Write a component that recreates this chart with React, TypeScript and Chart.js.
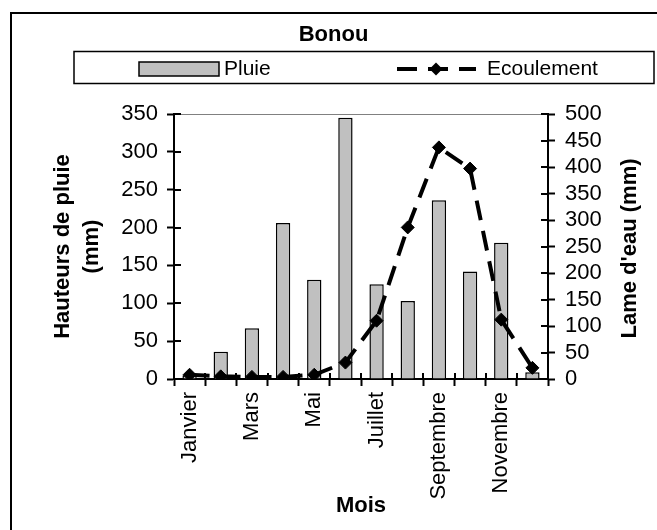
import { useEffect, useRef } from 'react';
import { Chart, registerables } from 'chart.js';

Chart.register(...registerables);

const months = ['Janvier', 'Février', 'Mars', 'Avril', 'Mai', 'Juin', 'Juillet', 'Août', 'Septembre', 'Octobre', 'Novembre', 'Décembre'];
const pluie = [5, 36, 67, 206, 131, 345, 125, 103, 236, 142, 180, 9];
const ecoulement = [8, 5, 4, 4, 8, 31, 110, 286, 437, 397, 112, 21];
const leftMax = 350;
const rightMax = 500;
const tickStep = 50;

const chartTitle = 'Bonou';
const seriesNames = ['Pluie', 'Ecoulement'];
const yTitleLines = ['Hauteurs de pluie', '(mm)'];
const y1Title = "Lame d'eau (mm)";
const xTitle = 'Mois';

const FONT = "'Liberation Sans', Arial, sans-serif";

const decorPlugin = {
  id: 'decor',
  afterDraw(chart: any) {
    const ctx: CanvasRenderingContext2D = chart.ctx;
    const ca = chart.chartArea;
    const { x, y, y1 } = chart.scales;
    ctx.save();

    // inner halves of tick marks (ticks cross the axes)
    ctx.strokeStyle = '#000';
    ctx.lineWidth = 2;
    ctx.beginPath();
    for (let i = 0; i <= months.length; i++) {
      const px = Math.round(x.getPixelForValue(i - 0.5));
      ctx.moveTo(px, ca.bottom);
      ctx.lineTo(px, ca.bottom - 6);
    }
    y.ticks.forEach((t: any) => {
      const py = Math.round(y.getPixelForValue(t.value));
      ctx.moveTo(ca.left, py);
      ctx.lineTo(ca.left + 7, py);
    });
    y1.ticks.forEach((t: any) => {
      const py = Math.round(y1.getPixelForValue(t.value));
      ctx.moveTo(ca.right, py);
      ctx.lineTo(ca.right - 7, py);
    });
    ctx.stroke();

    // outer frame
    ctx.lineWidth = 2;
    ctx.strokeRect(11, 13, 700, 600);

    // title
    ctx.fillStyle = '#000';
    ctx.font = `bold 22px ${FONT}`;
    ctx.textAlign = 'center';
    ctx.textBaseline = 'middle';
    ctx.fillText(chartTitle, 333.5, 35);

    // legend box
    ctx.lineWidth = 1.5;
    ctx.strokeRect(74, 51.5, 580, 32);
    const ds0 = chart.data.datasets[0];
    const ds1 = chart.data.datasets[1];
    const ly = 69;
    ctx.fillStyle = ds0.backgroundColor;
    ctx.fillRect(139, 62, 80, 14);
    ctx.strokeStyle = ds0.borderColor;
    ctx.lineWidth = 1.5;
    ctx.strokeRect(139, 62, 80, 14);
    ctx.fillStyle = '#000';
    ctx.font = `21px ${FONT}`;
    ctx.textAlign = 'left';
    ctx.fillText(seriesNames[0], 224, ly);

    ctx.strokeStyle = ds1.borderColor;
    ctx.lineWidth = ds1.borderWidth;
    ctx.setLineDash(ds1.borderDash);
    ctx.beginPath();
    ctx.moveTo(397, ly);
    ctx.lineTo(476, ly);
    ctx.stroke();
    ctx.setLineDash([]);
    ctx.fillStyle = ds1.pointBackgroundColor;
    const r = ds1.pointRadius;
    ctx.beginPath();
    ctx.moveTo(436 - r, ly);
    ctx.lineTo(436, ly - r);
    ctx.lineTo(436 + r, ly);
    ctx.lineTo(436, ly + r);
    ctx.closePath();
    ctx.fill();
    ctx.fillStyle = '#000';
    ctx.fillText(seriesNames[1], 487, ly);

    // axis titles
    ctx.font = `bold 22px ${FONT}`;
    ctx.textAlign = 'center';
    const cy = (ca.top + ca.bottom) / 2;
    const drawRot = (text: string, px: number, py: number) => {
      ctx.save();
      ctx.translate(px, py);
      ctx.rotate(-Math.PI / 2);
      ctx.fillText(text, 0, 0);
      ctx.restore();
    };
    drawRot(yTitleLines[0], 63, cy);
    drawRot(yTitleLines[1], 92, cy);
    drawRot(y1Title, 630, cy + 2);
    ctx.fillText(xTitle, (ca.left + ca.right) / 2, 506);

    ctx.restore();
  },
};

export default function App() {
  const ref = useRef<HTMLCanvasElement>(null);
  useEffect(() => {
    if (!ref.current) return;
    Chart.defaults.font.family = FONT;
    const tickFont = { family: FONT, size: 22, lineHeight: 1 };
    const chart = new Chart(ref.current, {
      type: 'bar',
      data: {
        labels: months,
        datasets: [
          {
            type: 'bar',
            label: seriesNames[0],
            data: pluie,
            yAxisID: 'y',
            backgroundColor: '#C0C0C0',
            borderColor: '#000000',
            borderWidth: 1.5,
            barPercentage: 0.46,
            categoryPercentage: 1,
            order: 2,
          } as any,
          {
            type: 'line',
            label: seriesNames[1],
            data: ecoulement,
            yAxisID: 'y1',
            borderColor: '#000000',
            borderWidth: 4,
            borderDash: [20, 11],
            pointStyle: 'rectRot',
            pointRadius: 6.5,
            pointBackgroundColor: '#000000',
            pointBorderColor: '#000000',
            pointBorderWidth: 1,
            tension: 0,
            fill: false,
            order: 1,
          } as any,
        ],
      },
      options: {
        responsive: false,
        animation: false,
        devicePixelRatio: 1,
        layout: { padding: { top: 114, left: 0, right: 0, bottom: 0 } },
        plugins: {
          legend: { display: false },
          title: { display: false },
          tooltip: { enabled: false },
        },
        scales: {
          x: {
            type: 'category',
            offset: true,
            grid: {
              offset: true,
              drawOnChartArea: false,
              tickLength: 7,
              tickWidth: 2,
              tickColor: '#000',
            },
            border: { color: '#000', width: 2 },
            ticks: {
              autoSkip: false,
              maxRotation: 90,
              minRotation: 90,
              padding: 6,
              color: '#000',
              font: tickFont,
              callback: (_v: any, i: number) => (i % 2 === 0 ? months[i] : ''),
            },
            afterFit: (s: any) => {
              s.height = 151;
            },
          },
          y: {
            position: 'left',
            min: 0,
            max: leftMax,
            grid: {
              drawOnChartArea: true,
              color: (c: any) => (c.tick && c.tick.value === leftMax ? '#808080' : 'rgba(0,0,0,0)'),
              lineWidth: 1,
              tickLength: 7,
              tickWidth: 2,
              tickColor: '#000',
            },
            border: { color: '#000', width: 2 },
            ticks: { stepSize: tickStep, autoSkip: false, padding: 9, color: '#000', font: tickFont },
            afterFit: (s: any) => {
              s.width = 174;
            },
          },
          y1: {
            position: 'right',
            min: 0,
            max: rightMax,
            grid: {
              drawOnChartArea: false,
              tickLength: 7,
              tickWidth: 2,
              tickColor: '#000',
            },
            border: { color: '#000', width: 2 },
            ticks: { stepSize: tickStep, autoSkip: false, padding: 10, color: '#000', font: tickFont },
            afterFit: (s: any) => {
              s.width = 109;
            },
          },
        },
      } as any,
      plugins: [decorPlugin],
    });
    return () => chart.destroy();
  }, []);
  return (
    <div style={{ position: 'fixed', left: 0, top: 0, width: 657, height: 530, background: '#fff' }}>
      <canvas ref={ref} width={657} height={530} style={{ display: 'block' }} />
    </div>
  );
}
